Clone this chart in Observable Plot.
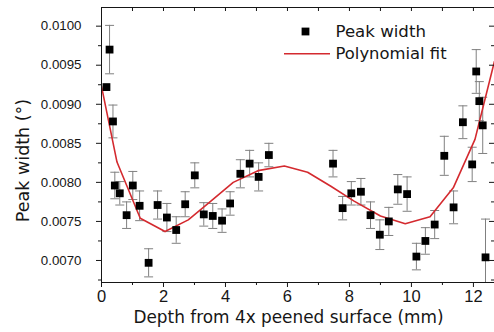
<!DOCTYPE html>
<html><head><meta charset="utf-8">
<script src="https://cdn.jsdelivr.net/npm/d3@7"></script>
<script src="https://cdn.jsdelivr.net/npm/@observablehq/plot@0.6"></script>
<style>body{margin:0;background:#fff} #chart svg{display:block}</style>
</head><body><div id="chart"></div>
<script>
// Measured data: depth (mm), peak width (deg), error (half-length)
const depth = [0.16,0.26,0.37,0.43,0.59,0.81,1.01,1.23,1.52,1.81,2.11,2.41,2.70,3.01,3.30,3.59,3.89,4.15,4.48,4.78,5.07,5.40,7.47,7.78,8.06,8.37,8.68,8.98,9.27,9.56,9.86,10.16,10.45,10.75,11.06,11.36,11.66,11.96,12.09,12.19,12.30,12.39];
const peakWidth = [0.00922,0.00970,0.00878,0.00796,0.00786,0.00758,0.00796,0.00770,0.00697,0.00771,0.00755,0.00739,0.00772,0.00809,0.00759,0.00757,0.00751,0.00773,0.00811,0.00824,0.00807,0.00835,0.00824,0.00767,0.00786,0.00788,0.00758,0.00733,0.00750,0.00791,0.00785,0.00705,0.00725,0.00746,0.00834,0.00768,0.00877,0.00823,0.00942,0.00904,0.00873,0.00704];
const widthErr = [0,0.00031,0.00021,0.00017,0.00015,0.00017,0.00018,0.00019,0.00018,0.00018,0.00018,0.00017,0.00016,0.00016,0.00015,0.00016,0.00015,0.00015,0.00018,0.00017,0.00018,0.00015,0.00017,0.00015,0.00015,0.00017,0.00017,0.00019,0.00018,0.00019,0.00022,0.00017,0.00017,0.00018,0.00025,0.00021,0.00021,0.00022,0.00028,0.00025,0.00036,0.00049];
// Polynomial fit polyline
const fitDepth = [0,0.5,1.25,2.05,2.8,3.5,4.25,5.05,5.9,6.65,7.4,8.15,9.0,9.8,10.6,11.35,12.05,12.68];
const fitWidth = [0.00923,0.00826,0.00754,0.00737,0.00752,0.00775,0.00800,0.00815,0.00821,0.00813,0.00795,0.00776,0.00757,0.00747,0.00756,0.00793,0.00855,0.00955];
// Ticks
const xTicks = [0,2,4,6,8,10,12];
const xMinor = [1,3,5,7,9,11];
const xTop = [1,2,3,4,5,6,7,8,9,10,11,12];
const yTicks = [0.0070,0.0075,0.0080,0.0085,0.0090,0.0095,0.0100];
const yMinor = [0.00675,0.00725,0.00775,0.00825,0.00875,0.00925,0.00975];
const xDomain = [0, 12.68];
const yDomain = [0.006718, 0.010239];
const xTitle = "Depth from 4x peened surface (mm)";
const yTitle = "Peak width (°)";
const legendLabels = ["Peak width", "Polynomial fit"];

const pts = depth.map((d, i) => ({d, w: peakWidth[i], e: widthErr[i]}));
const errPts = pts.filter(p => p.e > 0);
const fit = fitDepth.map((d, i) => ({d, w: fitWidth[i]}));

const font = "DejaVu Sans, sans-serif";
const tickFont = "Liberation Sans, Arial, sans-serif";
const ink = "#161616";
const red = "#d42a2f";
const errColor = "#808080";
const hbar = (w) => ({draw(ctx) { ctx.moveTo(-w / 2, 0); ctx.lineTo(w / 2, 0); }});
const yMinorIn = yMinor.filter(v => v > yDomain[0]);

const chart = Plot.plot({
  width: 494, height: 332,
  marginLeft: 101, marginRight: 0, marginTop: 7, marginBottom: 50,
  x: {domain: xDomain, label: null},
  y: {domain: yDomain, label: null},
  style: {fontFamily: font, color: ink, background: "#fff"},
  marks: [
    // error bars
    Plot.ruleX(errPts, {x: "d", y1: p => p.w - p.e, y2: p => p.w + p.e, stroke: errColor, strokeWidth: 1, clip: true}),
    Plot.dot(errPts, {x: "d", y: p => p.w + p.e, symbol: hbar(9), stroke: errColor, fill: "none", strokeWidth: 1, clip: true}),
    Plot.dot(errPts, {x: "d", y: p => p.w - p.e, symbol: hbar(9), stroke: errColor, fill: "none", strokeWidth: 1, clip: true}),
    // fit
    Plot.line(fit, {x: "d", y: "w", stroke: red, strokeWidth: 1.6, clip: true}),
    // points
    Plot.dot(pts, {x: "d", y: "w", symbol: "square", r: 4.4, fill: "#000", stroke: "none"}),
    // frame lines
    Plot.ruleX([xDomain[0]], {stroke: ink}),
    Plot.ruleY([yDomain[0]], {stroke: ink}),
    Plot.ruleY([yDomain[1]], {stroke: ink}),
    // inward ticks top and right
    Plot.ruleX(xTop, {x: d => d, insetBottom: 271, stroke: ink}),
    Plot.ruleY(yTicks, {y: d => d, insetLeft: 388, stroke: ink}),
    Plot.ruleY(yMinorIn, {y: d => d, insetLeft: 390, stroke: ink}),
    // axes
    Plot.axisX(xTicks, {tickSize: 5, tickPadding: 3, fontSize: 16.5, fontFamily: tickFont, tickFormat: d => String(d), label: null, fill: ink, stroke: ink}),
    Plot.axisX(xMinor, {tickSize: 3, tickFormat: () => "", label: null, stroke: ink}),
    Plot.axisY(yTicks, {tickSize: 5, tickPadding: 15, fontSize: 13.3, fontFamily: tickFont, tickFormat: d3.format(".4f"), label: null, fill: ink, stroke: ink}),
    Plot.axisY(yMinorIn, {tickSize: 3, tickFormat: () => "", label: null, stroke: ink}),
    // titles
    Plot.text([xTitle], {text: d => d, frameAnchor: "bottom", dx: -9.5, dy: 35.5, lineAnchor: "middle", fontSize: 16.9, fill: ink}),
    Plot.text([yTitle], {text: d => d, frameAnchor: "left", rotate: -90, textAnchor: "middle", dx: -78.3, dy: 15.5, lineAnchor: "middle", fontSize: 17.5, fill: ink}),
    // legend
    Plot.dot([0], {frameAnchor: "top-left", dx: 204, dy: 24, symbol: "square", r: 4.4, fill: "#000", stroke: "none"}),
    Plot.text([legendLabels[0]], {text: d => d, frameAnchor: "top-left", dx: 234, dy: 24, textAnchor: "start", lineAnchor: "middle", fontSize: 16.6, fill: ink}),
    Plot.dot([0], {frameAnchor: "top-left", dx: 205.5, dy: 46.3, symbol: hbar(46), stroke: red, strokeWidth: 1.6, fill: "none"}),
    Plot.text([legendLabels[1]], {text: d => d, frameAnchor: "top-left", dx: 234, dy: 46.3, textAnchor: "start", lineAnchor: "middle", fontSize: 16.4, fill: ink})
  ]
});
document.getElementById("chart").appendChild(chart);
</script>
</body></html>
